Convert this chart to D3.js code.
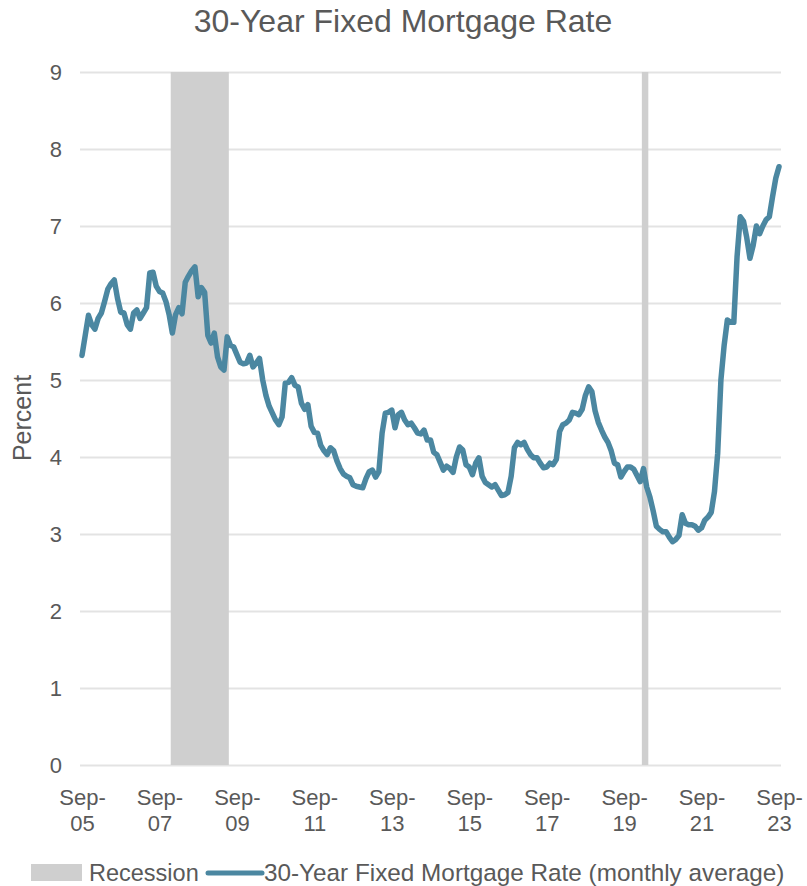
<!DOCTYPE html>
<html><head><meta charset="utf-8">
<script src="https://cdn.jsdelivr.net/npm/d3@7"></script>
<style>
html,body{margin:0;padding:0;background:#fff;}
svg{display:block;font-family:Arial,"Liberation Sans",sans-serif;}
</style></head>
<body><svg id="chart" width="807" height="886"></svg>
<script>
// ---- DATA ----
const title = "30-Year Fixed Mortgage Rate";
const yLabel = "Percent";
const startYear = 2005, startMonth = 9; // first observation: Sep 2005
// Monthly average 30-year fixed mortgage rate, Sep 2005 .. Sep 2023
const rates = [
  5.32,5.58,5.84,5.72,5.66,5.80,5.87,6.02,6.18,6.25,6.30,6.06,
  5.88,5.87,5.72,5.66,5.87,5.91,5.80,5.87,5.94,6.39,6.40,6.22,
  6.15,6.13,6.02,5.85,5.61,5.85,5.94,5.86,6.27,6.35,6.42,6.47,
  6.08,6.20,6.14,5.58,5.48,5.61,5.30,5.17,5.13,5.56,5.45,5.43,
  5.33,5.23,5.21,5.22,5.32,5.17,5.22,5.28,5.00,4.80,4.66,4.57,
  4.48,4.42,4.52,4.96,4.97,5.03,4.93,4.91,4.70,4.62,4.68,4.40,
  4.32,4.31,4.15,4.08,4.03,4.12,4.08,3.95,3.85,3.78,3.75,3.73,
  3.64,3.62,3.61,3.60,3.72,3.81,3.83,3.74,3.81,4.31,4.57,4.58,
  4.61,4.38,4.55,4.58,4.48,4.42,4.44,4.38,4.31,4.30,4.35,4.22,
  4.22,4.06,4.03,3.93,3.83,3.88,3.85,3.80,4.00,4.13,4.09,3.90,
  3.87,3.77,3.92,3.99,3.75,3.67,3.64,3.61,3.64,3.57,3.50,3.51,
  3.54,3.75,4.12,4.19,4.16,4.19,4.10,4.03,3.99,3.99,3.92,3.86,
  3.87,3.92,3.90,3.97,4.33,4.42,4.44,4.48,4.58,4.57,4.55,4.62,
  4.80,4.91,4.85,4.60,4.45,4.35,4.26,4.19,4.08,3.92,3.90,3.74,
  3.81,3.87,3.87,3.84,3.76,3.68,3.85,3.61,3.48,3.30,3.10,3.06,
  3.03,3.03,2.96,2.90,2.93,2.98,3.25,3.14,3.12,3.12,3.10,3.05,
  3.08,3.18,3.22,3.28,3.55,4.05,5.00,5.45,5.78,5.75,5.75,6.60,
  7.12,7.06,6.85,6.58,6.75,7.00,6.90,7.00,7.08,7.12,7.38,7.62,
  7.77
];
// Recession periods (first and last month, NBER)
const recessions = [["2008-01","2009-06"],["2020-03","2020-04"]];
const yTicks = [0,1,2,3,4,5,6,7,8,9];
const xTickLabels = ["Sep-05","Sep-07","Sep-09","Sep-11","Sep-13","Sep-15","Sep-17","Sep-19","Sep-21","Sep-23"];
const legendLabels = ["Recession","30-Year Fixed Mortgage Rate (monthly average)"];

// ---- STYLE / LAYOUT ----
const textColor = "#595959", lineColor = "#4b87a1", recColor = "#cfcfcf", gridColor = "#e3e3e3";
const svg = d3.select("#chart");
const plot = {left: 80, right: 781, top: 72, bottom: 765};
const monthIndex = s => { const [y,m] = s.split("-").map(Number); return (y - startYear)*12 + (m - startMonth); };

const x = d3.scaleLinear().domain([0, rates.length - 1]).range([82, 779]);
const y = d3.scaleLinear().domain([0, 9]).range([plot.bottom, plot.top]);

// title
svg.append("text").attr("x", 403).attr("y", 32).attr("text-anchor","middle")
  .attr("font-size", 32).attr("fill", textColor).text(title);

// gridlines + y axis
const yAxis = d3.axisLeft(y).tickValues(yTicks).tickFormat(d3.format("d"))
  .tickSize(-(plot.right - plot.left)).tickPadding(18);
const gy = svg.append("g").attr("transform", `translate(${plot.left},0)`).call(yAxis);
gy.select(".domain").remove();
gy.selectAll(".tick line").attr("stroke", gridColor).attr("stroke-width", 2);
gy.selectAll(".tick text").attr("font-size", 22).attr("fill", textColor).attr("font-family","Arial, 'Liberation Sans', sans-serif");

// recession bands
svg.append("g").selectAll("rect").data(recessions).join("rect")
  .attr("x", d => x(monthIndex(d[0]) - 0.5))
  .attr("width", d => x(monthIndex(d[1]) + 0.5) - x(monthIndex(d[0]) - 0.5))
  .attr("y", plot.top).attr("height", plot.bottom - plot.top)
  .attr("fill", recColor);

// line
const line = d3.line().x((d,i) => x(i)).y(d => y(d)).curve(d3.curveLinear);
svg.append("path").datum(rates).attr("d", line)
  .attr("fill","none").attr("stroke", lineColor).attr("stroke-width", 5.5)
  .attr("stroke-linejoin","round").attr("stroke-linecap","round");

// x axis
const xTickVals = xTickLabels.map((_, i) => i*24);
const xAxis = d3.axisBottom(x).tickValues(xTickVals).tickSize(0).tickPadding(0)
  .tickFormat((d,i) => xTickLabels[i]);
const gx = svg.append("g").attr("transform", `translate(0,${plot.bottom})`).call(xAxis);
gx.select(".domain").remove();
gx.selectAll(".tick text").each(function(d,i){
  const parts = xTickLabels[i].split("-");
  const t = d3.select(this).text(null).attr("font-size", 22).attr("fill", textColor)
    .attr("font-family","Arial, 'Liberation Sans', sans-serif").attr("dy", null).attr("y", 0);
  t.append("tspan").attr("x", 0).attr("y", 40).text(parts[0] + "-");
  t.append("tspan").attr("x", 0).attr("y", 66).text(parts[1]);
});

// y label
svg.append("text").attr("transform","translate(31,418) rotate(-90)").attr("text-anchor","middle")
  .attr("font-size", 25).attr("fill", textColor).text(yLabel);

// legend
const lg = svg.append("g");
lg.append("rect").attr("x", 31).attr("y", 864).attr("width", 51).attr("height", 17).attr("fill", recColor);
lg.append("text").attr("x", 89).attr("y", 881).attr("font-size", 23.5).attr("fill", textColor).text(legendLabels[0]);
lg.append("line").attr("x1", 208).attr("x2", 262).attr("y1", 873).attr("y2", 873)
  .attr("stroke", lineColor).attr("stroke-width", 5).attr("stroke-linecap","round");
lg.append("text").attr("x", 264).attr("y", 881).attr("font-size", 24.3).attr("fill", textColor).text(legendLabels[1]);
</script></body></html>
